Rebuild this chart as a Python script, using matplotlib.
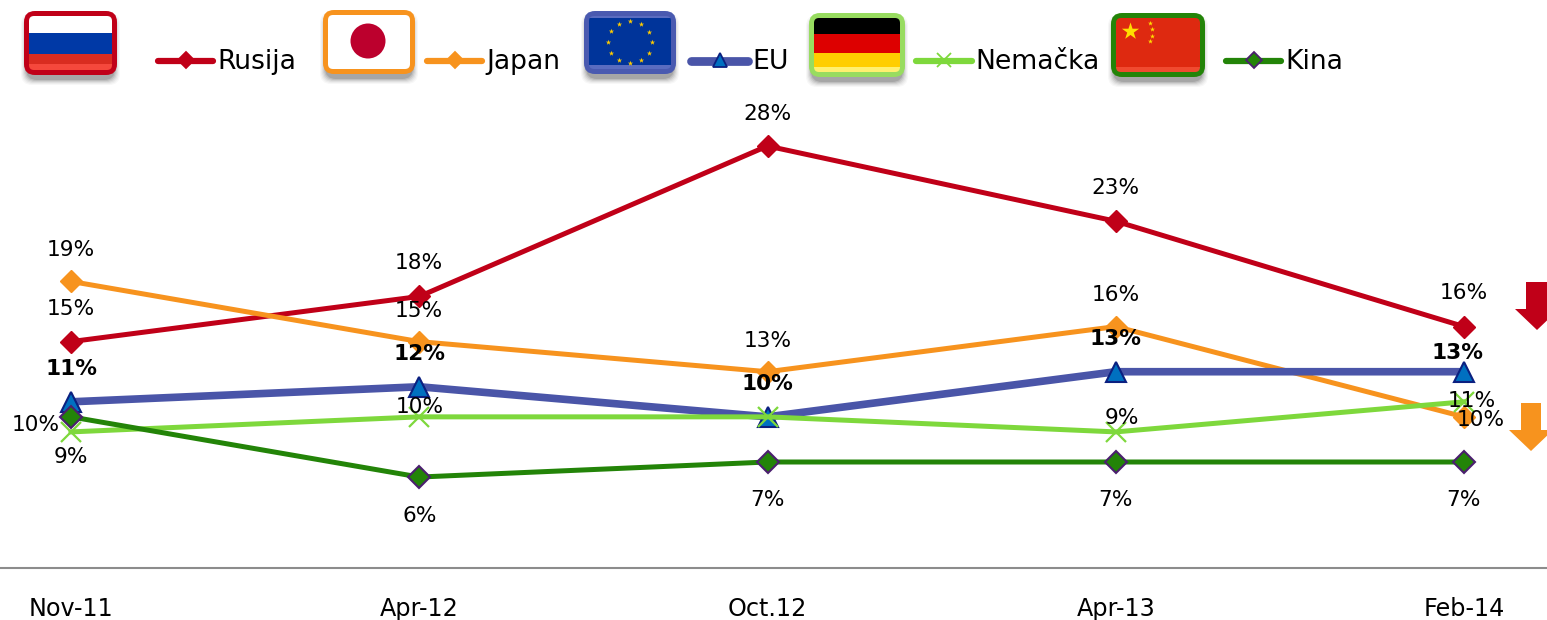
"""Serbian poll line chart: Rusija, Japan, EU, Nemacka, Kina, with flag legend."""
import numpy as np
import matplotlib
matplotlib.use("Agg")
import matplotlib.pyplot as plt
from matplotlib.patches import FancyBboxPatch, Rectangle, Circle, Polygon

# ── Data ─────────────────────────────────────────────────────────────────────
PERIODS = ["Nov-11", "Apr-12", "Oct.12", "Apr-13", "Feb-14"]
RUSIJA  = [15, 18, 28, 23, 16]
JAPAN   = [19, 15, 13, 16, 10]
EU      = [11, 12, 10, 13, 13]
NEMACKA = [9, 10, 10, 9, 11]
KINA    = [10, 6, 7, 7, 7]

# the Oct.12 Nemacka label is not printed in the chart
NEMACKA_LABELS = ["9%", "10%", "", "9%", "11%"]
RUSIJA_LABELS  = [f"{v}%" for v in RUSIJA]
JAPAN_LABELS   = [f"{v}%" for v in JAPAN]
EU_LABELS      = [f"{v}%" for v in EU]
KINA_LABELS    = [f"{v}%" for v in KINA]

# ── Style ────────────────────────────────────────────────────────────────────
W, H = 1547, 620
RED, ORANGE, BLUE = "#c00018", "#f7931e", "#4a55a8"
LIME, GREEN = "#7ed83c", "#238408"
TRI_FILL, TRI_EDGE = "#0070c0", "#0b2080"
DIA_EDGE = "#4b1f6f"

# label offsets from the point, in pixels (+ is up)
OFF_RUSIJA  = [(0, 34), (0, 35), (0, 33), (0, 35), (0, 35)]
OFF_JAPAN   = [(0, 33), (0, 32), (0, 32), (0, 33), (17, -2)]
OFF_EU      = [(0, 34), (0, 34), (0, 34), (0, 34), (-7, 20)]
OFF_NEMACKA = [(0, -24), (0, 11), (0, 0), (6, 15), (8, 2)]
OFF_KINA    = [(-35, -7), (0, -37), (0, -37), (0, -37), (0, -37)]

fig = plt.figure(figsize=(W / 100, H / 100), dpi=100)

# overlay in raw pixels for the legend, flags, arrows and baseline
deco = fig.add_axes([0, 0, 1, 1])
deco.set_xlim(0, W)
deco.set_ylim(H, 0)
deco.axis("off")


def flag(x0, y0, x1, y1, border, draw):
    """Glossy rounded flag button; draw() paints the inner field."""
    for grow, alpha in [(10, 0.03), (8, 0.04), (6, 0.05), (4, 0.07), (2, 0.09), (0, 0.12)]:
        deco.add_patch(FancyBboxPatch((x0 + 2 - grow / 2, y0 + 7 - grow / 2),
                                      x1 - x0 - 4 + grow, y1 - y0 - 2 + grow,
                                      boxstyle="round,pad=0,rounding_size=11",
                                      fc="black", ec="none", alpha=alpha))
    deco.add_patch(FancyBboxPatch((x0, y0), x1 - x0, y1 - y0,
                                  boxstyle="round,pad=0,rounding_size=11",
                                  fc=border, ec="none"))
    clip = FancyBboxPatch((x0 + 5, y0 + 5), x1 - x0 - 10, y1 - y0 - 10,
                          boxstyle="round,pad=0,rounding_size=5",
                          fc="none", ec="none")
    deco.add_patch(clip)
    for art in draw(x0 + 5, y0 + 5, x1 - x0 - 10, y1 - y0 - 10):
        deco.add_artist(art)
        art.set_clip_path(clip)


def stripes(colors, fracs):
    def paint(x, y, w, h):
        arts, top = [], 0.0
        for c, f in zip(colors, fracs):
            arts.append(Rectangle((x, y + top * h), w, f * h, fc=c, ec="none",
                                  transform=deco.transData))
            top += f
        return arts
    return paint


def japan_field(x, y, w, h):
    return [Rectangle((x, y), w, h, fc="white", ec="none", transform=deco.transData),
            Circle((x + w / 2 - 1, y + h / 2 - 1), 17.5, fc="#bc002d", ec="none",
                   transform=deco.transData)]


flag(24, 11, 117, 75, RED, stripes(["white", "#0039a6", "#d92c20", "#f5483c"],
                                   [0.31, 0.39, 0.18, 0.12]))
flag(323, 10, 415, 74, ORANGE, japan_field)
flag(584, 11, 676, 74, "#4a5ab0", stripes(["#5a6cc0", "#00349a", "#5a6cc0"], [0.03, 0.90, 0.07]))
flag(809, 13, 905, 77, "#98dc60", stripes(["#000000", "#dd0000", "#ffce00", "#fff070"],
                                          [0.30, 0.34, 0.26, 0.10]))
flag(1111, 13, 1205, 77, GREEN, stripes(["#de2910", "#f04a30"], [0.90, 0.10]))

# EU ring of stars and the stars on the Chinese flag
ang = np.arange(12) * np.pi / 6
deco.scatter(630 + 22 * np.sin(ang), 42 + 21 * np.cos(ang), marker="*", s=16,
             color="#ffcc00", linewidths=0, zorder=3)
deco.scatter([1130], [31], marker="*", s=170, color="#ffde00", linewidths=0, zorder=3)
deco.scatter([1150, 1152, 1152, 1150], [23, 29, 36, 41], marker="*", s=14,
             color="#ffde00", linewidths=0, zorder=3)

# legend
LEGEND = [("Rusija", RED, 158, 213, 217, 5, "D", RED, RED, 10),
          ("Japan", ORANGE, 427, 482, 486, 5, "D", ORANGE, ORANGE, 10),
          ("EU", BLUE, 691, 748, 752, 7, "^", TRI_FILL, TRI_EDGE, 13),
          ("Nemačka", LIME, 916, 972, 975, 5, "x", LIME, LIME, 13),
          ("Kina", GREEN, 1226, 1281, 1285, 5, "D", GREEN, DIA_EDGE, 10)]
for name, col, x0, x1, tx, lw, mk, mfc, mec, ms in LEGEND:
    deco.plot([x0, x1], [61, 61], color=col, lw=lw * 0.9, solid_capstyle="round")
    deco.plot([(x0 + x1) / 2], [60], marker=mk, mfc=mfc, mec=mec, ms=ms * 0.8, mew=1.3, ls="none")
    deco.text(tx, 62, name, fontsize=19.2, va="center", ha="left", color="black")

# baseline and period labels
deco.plot([0, W], [568, 568], color="#8c8c8c", lw=1.5)

# trend arrows, partly cut by the right edge
deco.add_patch(Polygon([(1526, 282), (1548, 282), (1548, 309), (1559, 309), (1537, 330),
                        (1515, 309), (1526, 309)], fc=RED, ec="none"))
deco.add_patch(Polygon([(1521, 403), (1541, 403), (1541, 430), (1553, 430), (1531, 451),
                        (1509, 430), (1521, 430)], fc=ORANGE, ec="none"))

# main axes: x 0..4 spans pixels 71..1464, y 7..28 spans pixels 462..146
ax = fig.add_axes([71 / W, 1 - 462 / H, (1464 - 71) / W, (462 - 146) / H])
ax.patch.set_alpha(0)
ax.set_xlim(0, 4)
ax.set_ylim(7, 28)
ax.axis("off")

x = np.arange(len(PERIODS))
ax.plot(x, RUSIJA, color=RED, lw=3.6, marker="D", ms=11, mfc=RED, mec=RED, clip_on=False, zorder=3)
ax.plot(x, JAPAN, color=ORANGE, lw=3.6, marker="D", ms=11, mfc=ORANGE, mec=ORANGE, clip_on=False, zorder=3.1)
ax.plot(x, EU, color=BLUE, lw=5.5, marker="^", ms=15, mfc=TRI_FILL, mec=TRI_EDGE, mew=1.5,
        clip_on=False, zorder=3.2)
ax.plot(x, NEMACKA, color=LIME, lw=3.6, marker="x", ms=14, mec=LIME, mew=1.6, clip_on=False, zorder=3.3)
ax.plot(x, KINA, color=GREEN, lw=3.6, marker="D", ms=11, mfc=GREEN, mec=DIA_EDGE, mew=1.5,
        clip_on=False, zorder=3.4)

SERIES = [(RUSIJA, RUSIJA_LABELS, OFF_RUSIJA, "normal"),
          (JAPAN, JAPAN_LABELS, OFF_JAPAN, "normal"),
          (EU, EU_LABELS, OFF_EU, "bold"),
          (NEMACKA, NEMACKA_LABELS, OFF_NEMACKA, "normal"),
          (KINA, KINA_LABELS, OFF_KINA, "normal")]
for vals, labels, offs, weight in SERIES:
    for xi, v, lab, (dx, dy) in zip(x, vals, labels, offs):
        if lab:
            # offsets are in pixels; 72/100 converts to points at this dpi
            ax.annotate(lab, (xi, v), xytext=(dx * 0.72, (dy - 1.5) * 0.72), textcoords="offset points",
                        ha="center", va="center", fontsize=15.6, fontweight=weight,
                        color="black", annotation_clip=False, zorder=5)

for xi, lab in zip(x, PERIODS):
    ax.annotate(lab, (xi, 7), xytext=(0, -147 * 0.72), textcoords="offset points",
                ha="center", va="center", fontsize=17.2, color="black", annotation_clip=False)

fig.savefig("out.png", dpi=100)
